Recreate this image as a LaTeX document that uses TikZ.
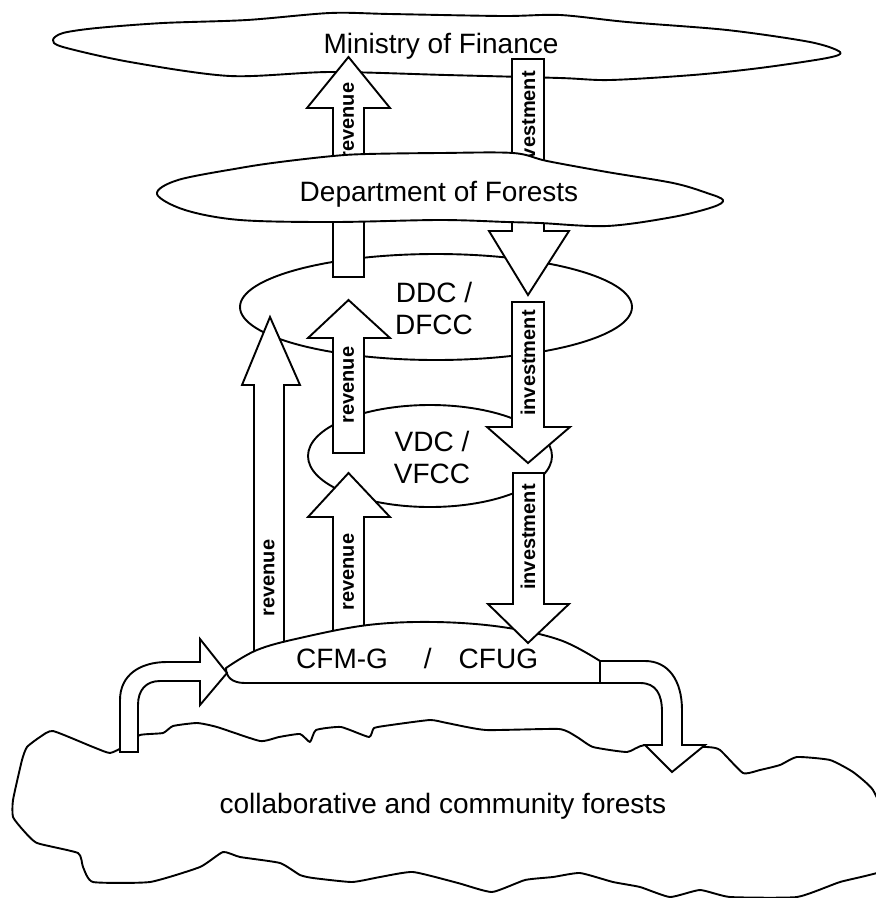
\documentclass[tikz,border=0pt]{standalone}
\usepackage{fontspec}
\setmainfont{Liberation Sans}
\begin{document}
\begin{tikzpicture}[x=1pt,y=-1pt,
  outl/.style={draw=black, line width=1.9pt, fill=white, line join=round},
  blk/.style={draw=black, line width=1.9pt, fill=white, line join=miter, miter limit=6},
  lbl/.style={font=\bfseries\fontsize{20}{22}\selectfont, rotate=90, inner sep=0pt},
  txt/.style={font=\fontsize{28}{32}\selectfont, inner sep=0pt, align=center}]
\useasboundingbox (0,0) rectangle (876,898);
\clip (0,0) rectangle (876,898);

% collaborative and community forests (bottom cloud)
\draw[outl] plot[smooth cycle, tension=0.3] coordinates {
 (13,800) (22,760) (27,747) (40,737) (53,731) (93,747) (110,753) (125,746)
 (140,735) (163,733) (173,726) (197,723) (217,727) (260,741) (279,737) (300,734)
 (310,742) (316,730) (341,727) (369,737) (374,728) (391,725) (430,720) (447,723)
 (486,730) (559,729) (577,737) (593,747) (627,752) (645,745) (707,747) (720,750)
 (743,773) (760,770) (780,765) (797,757) (830,760) (853,772) (873,790) (890,830)
 (890,868) (840,882) (797,897) (730,897) (700,890) (670,897) (640,887) (613,882)
 (580,873) (553,877) (525,880) (492,892) (458,883) (413,872) (380,877) (352,882)
 (313,878) (300,875) (280,863) (240,857) (223,852) (200,867) (150,882) (93,882)
 (83,867) (78,853) (37,843) (23,830) (13,817)};

% Ministry of Finance cloud
\draw[outl] plot[smooth cycle, tension=0.5] coordinates {
 (53,40) (63,33) (97,28) (163,23) (247,20) (330,13) (390,14) (503,16) (560,15)
 (627,22) (727,30) (810,42) (840,52) (827,58) (760,68) (693,75) (610,80) (560,78)
 (446,75) (330,72) (230,76) (130,62) (63,47)};

% DDC / DFCC and VDC / VFCC ellipses
\draw[outl] (436,307) ellipse [x radius=196, y radius=53];
\draw[outl] (430,456) ellipse [x radius=122, y radius=51];

% revenue arrows
\draw[blk] (333,277) -- (333,108) -- (307,108) -- (348.5,57) -- (390,108) -- (364,108) -- (364,277) -- cycle;
\node[lbl] (revA) at (348.5,121) {revenue};
\draw[blk] (333,453) -- (333,338) -- (308,338) -- (348.5,300) -- (390,338) -- (364,338) -- (364,453) -- cycle;
\node[lbl] (revB) at (348.5,385) {revenue};
\draw[blk] (333,665) -- (333,517) -- (308,517) -- (348.5,473) -- (390,517) -- (364,517) -- (364,665) -- cycle;
\node[lbl] (revC) at (348.5,572) {revenue};
\draw[blk] (254,665) -- (254,385) -- (242,385) -- (270,317) -- (300,385) -- (284,385) -- (284,665) -- cycle;
\node[lbl] (revD) at (269,578) {revenue};

% investment arrows (upper two)
\draw[blk] (512,59) -- (512,231) -- (489,231) -- (528,295) -- (569,231) -- (544,231) -- (544,59) -- cycle;
\node[lbl] (invA) at (528,124) {investment};
\draw[blk] (512,302) -- (512,427) -- (487,427) -- (528,463) -- (570,427) -- (544,427) -- (544,302) -- cycle;
\node[lbl] (invB) at (528,363) {investment};

% CFM-G / CFUG dome
\draw[outl] (600,683) -- plot[smooth, tension=0.6] coordinates {
 (600,661) (560,640) (502,627) (435,622) (368,625) (300,638) (257,650) (226,668)}
 .. controls (226,677) and (232,683) .. (245,683) -- cycle;

% lowest investment arrow
\draw[blk] (513,473) -- (513,604) -- (488,604) -- (528,643) -- (569,604) -- (544,604) -- (544,473) -- cycle;
\node[lbl] (invC) at (528,537) {investment};

% bent arrows
\draw[blk] (120,752) -- (120,700) .. controls (120,675) and (140,662) .. (167,662)
  -- (200,662) -- (200,639) -- (227,673) -- (200,705) -- (200,681) -- (160,681)
  .. controls (146,681) and (138,690) .. (138,705) -- (138,752) -- cycle;
\draw[blk] (600,661) -- (645,661) .. controls (668,661) and (682,680) .. (682,710)
  -- (682,745) -- (705,745) -- (672,772) -- (645,745) -- (662,745) -- (662,712)
  .. controls (662,694) and (656,683) .. (640,683) -- (600,683) -- cycle;

% Department of Forests cloud
\draw[outl] plot[smooth cycle, tension=0.55] coordinates {
 (157,194) (178,180) (240,168) (280,162) (333,156) (367,154) (440,153) (513,153)
 (547,161) (607,172) (673,183) (707,193) (723,200) (713,207) (673,217) (607,226)
 (540,223) (507,222) (440,220) (333,222) (240,220) (185,210)};

% texts
\node[txt, anchor=base] (mof) at (441,53) {Ministry of Finance};
\node[txt, anchor=base] (dof) at (439,201) {Department of Forests};
\node[txt] (ddc) at (434,308) {DDC /\\DFCC};
\node[txt] (vdc) at (432,457) {VDC /\\VFCC};
\node[txt, anchor=base west] (cfug) at (296,668) {CFM-G\hspace{36pt}/\hspace{27pt}CFUG};
\node[txt, anchor=base] (forest) at (443,813) {collaborative and community forests};
\end{tikzpicture}
\end{document}
